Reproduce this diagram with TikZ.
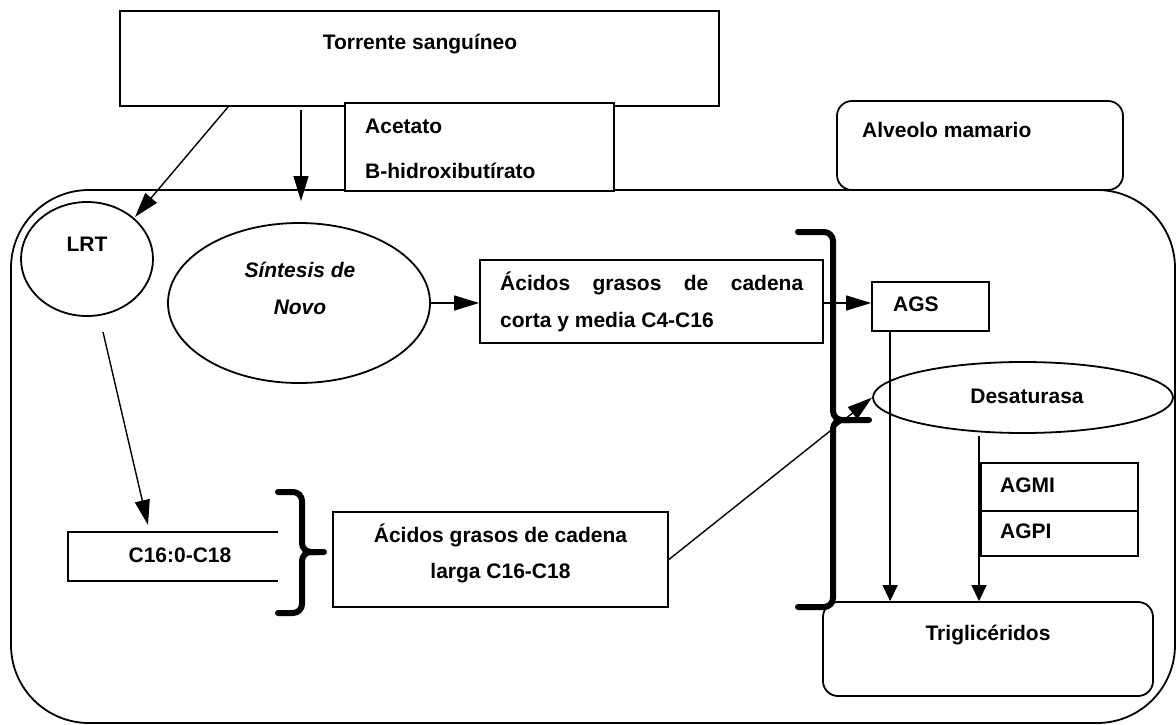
\documentclass[tikz,border=0pt]{standalone}
\usepackage{fontspec}
\setmainfont{Liberation Sans}
\usetikzlibrary{shapes.geometric,arrows.meta,calc}
\begin{document}
\begin{tikzpicture}[x=1pt,y=-1pt,
  txt/.style={inner sep=0pt,font=\bfseries\fontsize{21}{25}\selectfont},
  frame/.style={draw,line width=1.8pt,inner sep=0pt,rectangle},
  oval/.style={draw,line width=1.8pt,inner sep=0pt,ellipse},
  arr/.style={line width=1.4pt,-{Triangle[length=25pt,width=15pt]}},
  arrs/.style={line width=1.4pt,-{Triangle[length=16pt,width=15pt]}},
  brace/.style={line width=6pt,line cap=round,rounded corners=9pt}]
\useasboundingbox (0,0) rectangle (1176,725);

% blood stream and the mammary cell
\node[frame,minimum width=599pt,minimum height=95pt] (torrente) at (419.5,58.5) {};
\node[frame,rounded corners=78pt,minimum width=1164pt,minimum height=533pt] (celula) at (593,456.5) {};
\node[frame,fill=white,minimum width=269pt,minimum height=88pt] (sustratos) at (479.5,147) {};
\node[frame,fill=white,rounded corners=15pt,minimum width=286pt,minimum height=89pt] (alveolo) at (980,145.5) {};

% pathways inside the cell
\node[oval,minimum width=132pt,minimum height=114pt] (lrt) at (87,259) {};
\node[oval,minimum width=262pt,minimum height=160pt] (sintesis) at (299,303) {};
\node[frame,minimum width=343pt,minimum height=83pt] (acorta) at (651.5,301.5) {};
\node[frame,minimum width=117pt,minimum height=49pt] (ags) at (930.5,306.5) {};
\node[oval,minimum width=300pt,minimum height=71pt] (desat) at (1023,397.5) {};
\node[frame,minimum width=157pt,minimum height=48pt] (agmi) at (1059.5,487) {};
\node[frame,minimum width=157pt,minimum height=45pt] (agpi) at (1059.5,533.5) {};
\node[frame,rounded corners=15pt,minimum width=330pt,minimum height=94pt] (trig) at (988,649) {};
\node[inner sep=0pt,minimum width=210pt,minimum height=49pt] (c16) at (173,556.5) {};
\node[frame,minimum width=335pt,minimum height=95pt] (alarga) at (500.5,559.5) {};
\draw[line width=1.8pt] (c16.north east) -- (c16.north west) -- (c16.south west) -- (c16.south east);

% texts
\node[txt,anchor=base] (tTorrente) at (420,50) {Torrente sanguíneo};
\node[txt,anchor=base west] (tAcetato) at (365,133) {Acetato};
\node[txt,anchor=base west] (tBhidroxi) at (365,178) {B-hidroxibutírato};
\node[txt,anchor=base west] (tAlveolo) at (862,137) {Alveolo mamario};
\node[txt,anchor=base] (tLRT) at (87,251) {LRT};
\node[txt,anchor=base,font=\bfseries\itshape\fontsize{21}{25}\selectfont] (tSintesis) at (300,277) {Síntesis de};
\node[txt,anchor=base,font=\bfseries\itshape\fontsize{21}{25}\selectfont] (tNovo) at (300,314) {Novo};
\node[txt,anchor=base west] (tCorta1) at (500,290) {\makebox[303pt][l]{Ácidos\hfill grasos\hfill de\hfill cadena}};
\node[txt,anchor=base west] (tCorta2) at (500,327) {corta y media C4-C16};
\node[txt,anchor=base west] (tAGS) at (893,311) {AGS};
\node[txt,anchor=base] (tDesat) at (1027,403) {Desaturasa};
\node[txt,anchor=base west] (tAGMI) at (1000,492) {AGMI};
\node[txt,anchor=base west] (tAGPI) at (1000,538) {AGPI};
\node[txt,anchor=base] (tTrig) at (988,640) {Triglicéridos};
\node[txt,anchor=base] (tC16) at (180,562) {C16:0-C18};
\node[txt,anchor=base] (tLarga1) at (500.5,542) {Ácidos grasos de cadena};
\node[txt,anchor=base] (tLarga2) at (500.5,578) {larga C16-C18};

% brackets
\draw[brace] (798,232) -- (833,232) -- (833,420) -- (869,420);
\draw[brace] (850,420) -- (833,420) -- (833,607) -- (798,607);
\draw[brace] (278,492) -- (302,492) -- (302,552) -- (324,552);
\draw[brace] (315,552) -- (302,552) -- (302,613) -- (278,613);

% connectors
\coordinate (aLRT) at ([xshift=109pt]torrente.south west);
\coordinate (aLRTend) at (135,217);
\coordinate (aSin) at (301,110);
\coordinate (aSinend) at (301,201);
\coordinate (aC16) at (103,332);
\coordinate (aC16end) at (148,525);
\coordinate (aAGS) at ([xshift=19pt]ags.south west);
\coordinate (aDes) at (979,436);

\draw[arr] (aLRT) -- (aLRTend);
\draw[arr] (aSin) -- (aSinend);
\draw[arr] (aC16) -- (aC16end);
\draw[arr] (sintesis.east) -- (sintesis.east -| acorta.west);
\draw[arr] (acorta.east |- 0,303) -- (ags.west |- 0,303);
\draw[arr] (alarga.east) -- (desat.west);
\draw[arrs] (aAGS) -- (aAGS |- trig.north);
\draw[arrs] (aDes) -- (aDes |- trig.north);
\end{tikzpicture}
\end{document}
